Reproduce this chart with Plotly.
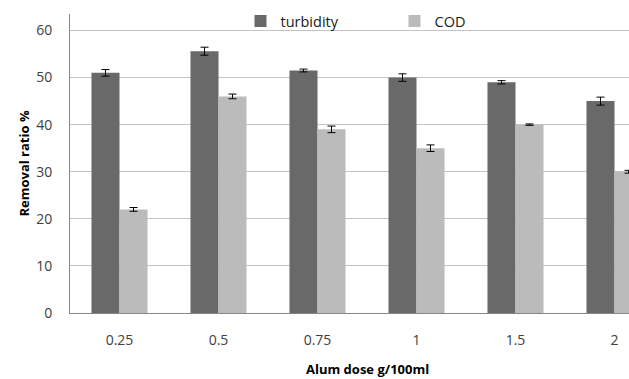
import plotly.graph_objects as go

doses = ["0.25", "0.5", "0.75", "1", "1.5", "2"]
turbidity = [51.0, 55.6, 51.5, 50.0, 49.0, 45.0]
turbidity_err = [0.7, 0.85, 0.3, 0.8, 0.35, 0.85]
cod = [22.0, 46.0, 39.0, 35.0, 40.0, 30.0]
cod_err = [0.4, 0.5, 0.7, 0.7, 0.15, 0.3]
y_ticks = [0, 10, 20, 30, 40, 50, 60]

FONT = "Open Sans"
TICK_COLOR = "#404040"

fig = go.Figure()
fig.add_trace(go.Bar(
    name="turbidity", x=doses, y=turbidity,
    marker=dict(color="#696969", line=dict(width=0)),
    error_y=dict(type="data", array=turbidity_err, color="black", thickness=1, width=4),
))
fig.add_trace(go.Bar(
    name="COD", x=doses, y=cod,
    marker=dict(color="#bbbbbb", line=dict(width=0)),
    error_y=dict(type="data", array=cod_err, color="black", thickness=1, width=4),
))

fig.update_layout(
    width=629, height=379,
    margin=dict(l=70, r=0, t=14, b=66),
    paper_bgcolor="white", plot_bgcolor="white",
    barmode="group", bargap=0.434, bargroupgap=0,
    font=dict(family=FONT, color=TICK_COLOR, size=14),
    showlegend=True,
    legend=dict(
        orientation="h", x=0.305, y=1.03, xanchor="left", yanchor="top",
        bgcolor="rgba(255,255,255,0)", font=dict(size=14.5, color="#202020", family=FONT),
        entrywidth=109, entrywidthmode="pixels", itemwidth=30,
    ),
    xaxis=dict(
        range=[-0.5, -0.5 + 559 / 99],
        showline=True, linecolor="#868686", linewidth=1,
        showgrid=False, ticks="", ticklabelstandoff=14,
        tickfont=dict(size=14, color=TICK_COLOR),
    ),
    yaxis=dict(
        range=[0, 63.5], tickvals=y_ticks,
        showline=True, linecolor="#868686", linewidth=1,
        showgrid=True, gridcolor="#c4c4c4", gridwidth=1,
        zeroline=False, ticks="", ticklabelstandoff=14,
        tickfont=dict(size=14, color=TICK_COLOR),
        title=dict(text="<b>Removal ratio %</b>", standoff=3,
                   font=dict(size=13, color="black", family=FONT)),
    ),
    annotations=[dict(
        text="<b>Alum dose g/100ml</b>", xref="paper", yref="paper",
        x=(367 - 70) / 559, y=-(369 - 313) / 299, xanchor="center", yanchor="middle",
        showarrow=False, font=dict(size=13, color="black", family=FONT),
    )],
)

fig.write_html("out.html")
